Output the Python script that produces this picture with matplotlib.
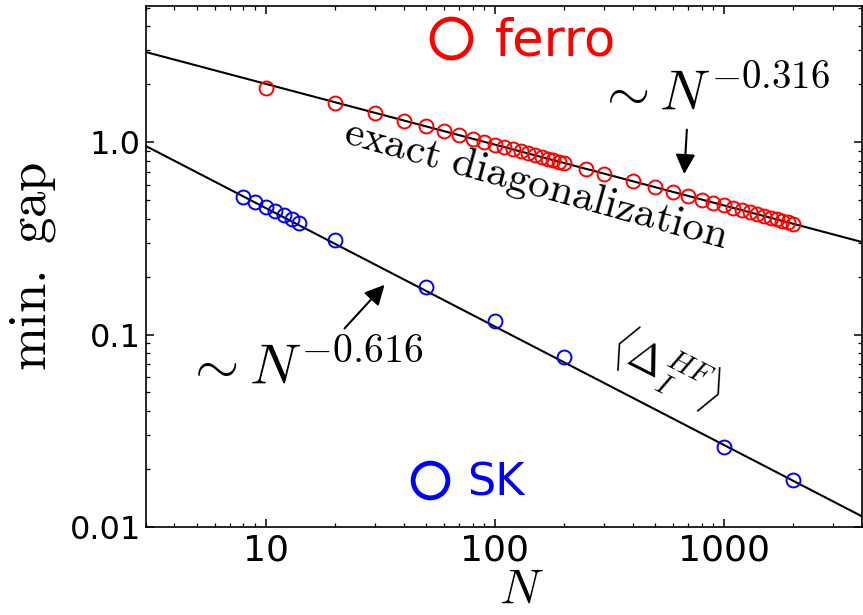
import numpy as np
import matplotlib
matplotlib.use("Agg")
import matplotlib.pyplot as plt
from matplotlib.lines import Line2D
from matplotlib.ticker import FixedLocator, FixedFormatter

plt.rcParams['mathtext.fontset'] = 'cm'
plt.rcParams['font.family'] = 'DejaVu Sans'

# ferro: exact diagonalization
N_ferro = [10, 20, 30, 40, 50, 60, 70, 80, 90, 100, 110, 120, 130, 140, 150, 160,
           170, 180, 190, 200, 250, 300, 400, 500, 600, 700, 800, 900, 1000, 1100,
           1200, 1300, 1400, 1500, 1600, 1700, 1800, 1900, 2000]
gap_ferro = [1.90, 1.59, 1.41, 1.29, 1.21, 1.14, 1.09, 1.04, 1.00, 0.970, 0.942, 0.917,
             0.894, 0.873, 0.854, 0.837, 0.821, 0.806, 0.793, 0.780, 0.727, 0.686,
             0.627, 0.584, 0.551, 0.525, 0.503, 0.485, 0.469, 0.455, 0.443, 0.432,
             0.422, 0.413, 0.404, 0.397, 0.389, 0.383, 0.377]

# SK
N_sk = [8, 9, 10, 11, 12, 13, 14, 20, 50, 100, 200, 1000, 2000]
gap_sk = [0.52, 0.49, 0.46, 0.44, 0.42, 0.40, 0.38, 0.31, 0.176, 0.117, 0.076, 0.026, 0.0175]

# power law fits  gap = A * N^(-b)
A_ferro, b_ferro = 4.16, 0.316
A_sk, b_sk = 1.88, 0.616

xtick_vals = [10, 100, 1000]
xtick_labels = ['10', '100', '1000']
ytick_vals = [0.01, 0.1, 1.0]
ytick_labels = ['0.01', '0.1', '1.0']

fig = plt.figure(figsize=(8.63, 6.15), dpi=100)
ax = fig.add_axes([0.1688, 0.1431, 0.8300, 0.8472])
ax.set_xscale('log')
ax.set_yscale('log')
ax.set_xlim(3, 4000)
ax.set_ylim(0.01, 5.1)

# fit lines
N_fit = np.logspace(np.log10(3), np.log10(4000), 200)
ax.plot(N_fit, A_ferro * N_fit ** (-b_ferro), color='black', lw=1.5, zorder=2)
ax.plot(N_fit, A_sk * N_fit ** (-b_sk), color='black', lw=1.5, zorder=2)

# data
ax.plot(N_ferro, gap_ferro, 'o', mfc='none', mec='red', ms=10, mew=1.4, zorder=3)
ax.plot(N_sk, gap_sk, 'o', mfc='none', mec='blue', ms=10, mew=1.4, zorder=3)

# ticks
ax.xaxis.set_major_locator(FixedLocator(xtick_vals))
ax.xaxis.set_major_formatter(FixedFormatter(xtick_labels))
ax.yaxis.set_major_locator(FixedLocator(ytick_vals))
ax.yaxis.set_major_formatter(FixedFormatter(ytick_labels))
ax.tick_params(which='both', direction='in', top=True, right=True, labelsize=23)
ax.tick_params(which='major', length=6, width=1.1)
ax.tick_params(which='minor', length=3, width=0.9)
ax.tick_params(axis='x', pad=5, labelsize=26)
for s in ax.spines.values():
    s.set_linewidth(1.2)

ax.set_xlabel(r'$N$', fontsize=35, va='bottom')
ax.xaxis.set_label_coords(0.525, -0.165)
ax.set_ylabel(r'$\mathrm{min.\ gap}$', fontsize=38, labelpad=8)

# annotations
ax.text(900, 1.76, r'$\sim N^{-0.316}$', fontsize=40, ha='center', va='center')
ax.annotate('', xy=(670, 0.66), xytext=(690, 1.20),
            arrowprops=dict(arrowstyle='-|>', color='black', lw=1.5, mutation_scale=30))
ax.text(152, 0.60, r'$\mathrm{exact\ diagonalization}$', fontsize=31,
        rotation=-15.5, ha='center', va='center', rotation_mode='anchor')

ax.text(14.8, 0.066, r'$\sim N^{-0.616}$', fontsize=41, ha='center', va='center')
ax.annotate('', xy=(33.7, 0.186), xytext=(21.7, 0.105),
            arrowprops=dict(arrowstyle='-|>', color='black', lw=1.5, mutation_scale=30))
ax.text(560, 0.066, r'$\langle\Delta_I^{HF}\rangle$', fontsize=30,
        rotation=-27, ha='center', va='center', rotation_mode='anchor')

# legends
h_ferro = Line2D([], [], ls='none', marker='o', mfc='none', mec='red', ms=28, mew=3.5)
h_sk = Line2D([], [], ls='none', marker='o', mfc='none', mec='blue', ms=25, mew=3.5)
leg1 = ax.legend([h_ferro], ['ferro'], loc='center', bbox_to_anchor=(0.525, 0.931),
                 frameon=False, handlelength=0.9, handletextpad=0.4, fontsize=37,
                 labelcolor='red')
ax.add_artist(leg1)
ax.legend([h_sk], ['SK'], loc='center', bbox_to_anchor=(0.449, 0.084),
          frameon=False, handlelength=0.9, handletextpad=0.4, fontsize=32,
          labelcolor='blue')

fig.savefig('out.png', dpi=100)
